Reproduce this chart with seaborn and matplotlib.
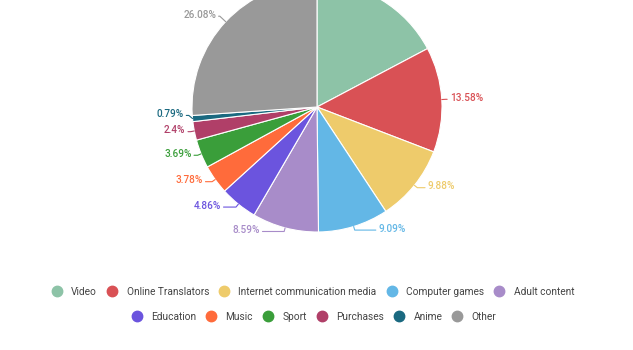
import numpy as np
import matplotlib
matplotlib.use("Agg")
import matplotlib.pyplot as plt
import seaborn as sns
from matplotlib.lines import Line2D

sns.set_theme(style="white")
plt.rcParams['font.family'] = ['Roboto', 'DejaVu Sans']

categories = ["Video", "Online Translators", "Internet communication media", "Computer games",
              "Adult content", "Education", "Music", "Sport", "Purchases", "Anime", "Other"]
values = [17.26, 13.58, 9.88, 9.09, 8.59, 4.86, 3.78, 3.69, 2.4, 0.79, 26.08]
labels = ["17.26%", "13.58%", "9.88%", "9.09%", "8.59%", "4.86%", "3.78%", "3.69%", "2.4%", "0.79%", "26.08%"]
colors = ["#8DC3A7", "#D95155", "#EECB6B", "#63B7E6", "#A88CC9", "#6B54DE",
          "#FF6B3B", "#3A9E3A", "#B03F68", "#1A6980", "#999999"]

W, H = 633, 350
fig = plt.figure(figsize=(W / 100, H / 100), dpi=100)
cx, cy, r = 317, 350 - 107, 125
ax = fig.add_axes([(cx - r * 1.6) / W, (cy - r * 1.6) / H, r * 3.2 / W, r * 3.2 / H])
ax.axis('off')

wedges, _ = ax.pie(values, colors=colors, startangle=90, counterclock=False,
                   wedgeprops=dict(edgecolor='white', linewidth=0.8), radius=1.0)
ax.set_xlim(-1.6, 1.6)
ax.set_ylim(-1.6, 1.6)
ax.set_aspect('equal')

# label layout
items = []
for w, lab, col in zip(wedges, labels, colors):
    ang = np.deg2rad((w.theta1 + w.theta2) / 2)
    x0, y0 = np.cos(ang), np.sin(ang)
    r1 = 1.03 + 0.05 * max(0.0, y0)
    x1, y1 = r1 * x0, r1 * y0
    side = 1 if x0 >= 0 else -1
    h = 0.03 if y0 >= 0 else 0.04 + 0.17 * abs(y0) ** 3
    items.append(dict(x0=x0, y0=y0, x1=x1, y1=y1, side=side, h=h, lab=lab, col=col, ty=y1))

gap = 0.13
for s in (1, -1):
    grp = sorted([it for it in items if it['side'] == s], key=lambda it: it['y1'])
    for a, b in zip(grp, grp[1:]):
        if b['ty'] - a['ty'] < gap:
            b['ty'] = a['ty'] + gap

for it in items:
    if it['ty'] * r + cy > H:  # beyond the top edge of the picture
        continue
    s = it['side']
    x2 = it['x1'] + s * it['h']
    ax.plot([it['x0'], it['x1'], x2 - s * 0.02], [it['y0'], it['ty'], it['ty']],
            color=it['col'], lw=0.8, clip_on=False)
    ax.text(x2, it['ty'] + 0.012, it['lab'], color=it['col'], fontsize=7.2,
            ha='left' if s > 0 else 'right', va='center', fontweight='medium')

def make_handles(idx):
    return [Line2D([0], [0], marker='o', color='none', markerfacecolor=colors[i],
                   markeredgecolor=colors[i], markersize=7.5, label=categories[i]) for i in idx]

common = dict(loc='center', frameon=False, fontsize=7.3, handletextpad=0.9,
              columnspacing=1.0, handlelength=1.0, labelcolor='#444444', borderpad=0)
fig.legend(handles=make_handles(range(0, 5)), ncol=5,
           bbox_to_anchor=(313 / W, 1 - 292 / H), **common)
fig.legend(handles=make_handles(range(5, 11)), ncol=6,
           bbox_to_anchor=(314 / W, 1 - 317 / H), **common)

fig.savefig("out.png", dpi=100)
